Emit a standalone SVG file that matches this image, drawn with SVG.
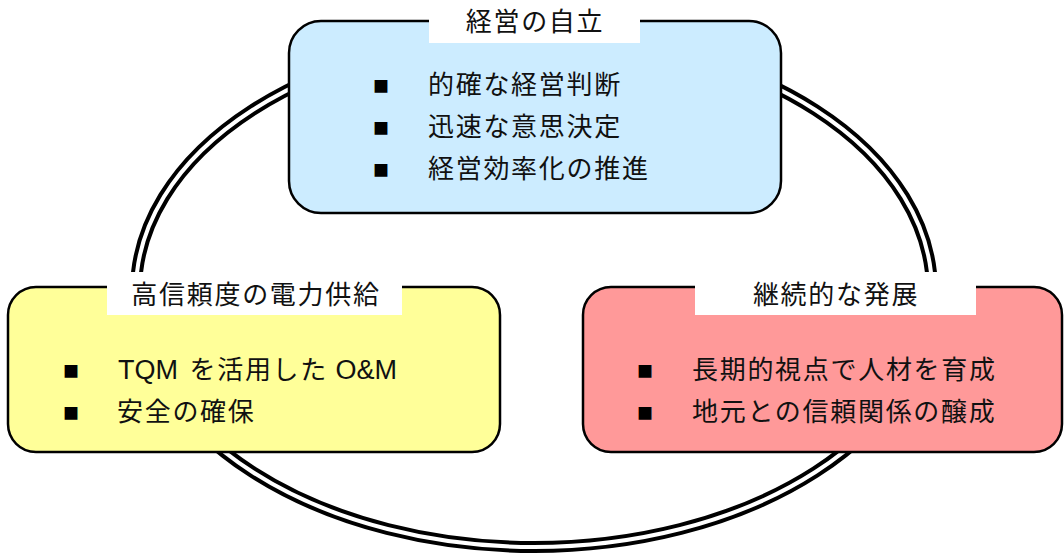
<svg xmlns="http://www.w3.org/2000/svg" width="1064" height="555" viewBox="0 0 1064 555">
<style>
.box{stroke:#000;stroke-width:2.5}
.lbl{fill:#fff}
.t{font-family:"Liberation Sans","Noto Sans CJK JP",sans-serif;font-size:26px;letter-spacing:1.7px;fill:#111}
.lat{font-size:27px;letter-spacing:0}
.b{font-family:"Noto Sans CJK JP",sans-serif;font-size:16px;fill:#000}
.ttl{text-anchor:middle}
</style>
<rect width="1064" height="555" fill="#fff"/>
<g id="connectors">
<ellipse cx="534" cy="291" rx="398" ry="256" fill="none" stroke="#000" stroke-width="12"/>
<ellipse cx="534" cy="291" rx="398" ry="256" fill="none" stroke="#fff" stroke-width="4"/>
</g>
<g id="node-top">
<rect class="box" x="289" y="21" width="492" height="192" rx="32" fill="#CCECFF"/>
<rect class="lbl" x="429" y="0" width="211" height="43"/>
<text class="t ttl" x="535" y="31">経営の自立</text>
<text class="b" x="373" y="92">■</text>
<text class="t" x="428" y="94">的確な経営判断</text>
<text class="b" x="373" y="134">■</text>
<text class="t" x="428" y="136">迅速な意思決定</text>
<text class="b" x="373" y="176">■</text>
<text class="t" x="428" y="178">経営効率化の推進</text>
</g>
<g id="node-left">
<rect class="box" x="8" y="287" width="492" height="165" rx="28" fill="#FFFF99"/>
<rect class="lbl" x="107" y="272" width="295" height="43"/>
<text class="t ttl" x="256" y="304">高信頼度の電力供給</text>
<text class="b" x="63" y="377">■</text>
<text class="t" x="118" y="379"><tspan class="lat">TQM </tspan><tspan dx="4">を活用した</tspan><tspan class="lat"> O&amp;M</tspan></text>
<text class="b" x="63" y="419">■</text>
<text class="t" x="117" y="421">安全の確保</text>
</g>
<g id="node-right">
<rect class="box" x="583" y="287" width="479" height="165" rx="28" fill="#FF9999"/>
<rect class="lbl" x="695" y="272" width="281" height="43"/>
<text class="t ttl" x="836" y="304">継続的な発展</text>
<text class="b" x="637" y="377">■</text>
<text class="t" x="692" y="379">長期的視点で人材を育成</text>
<text class="b" x="637" y="419">■</text>
<text class="t" x="692" y="421">地元との信頼関係の醸成</text>
</g>
</svg>
